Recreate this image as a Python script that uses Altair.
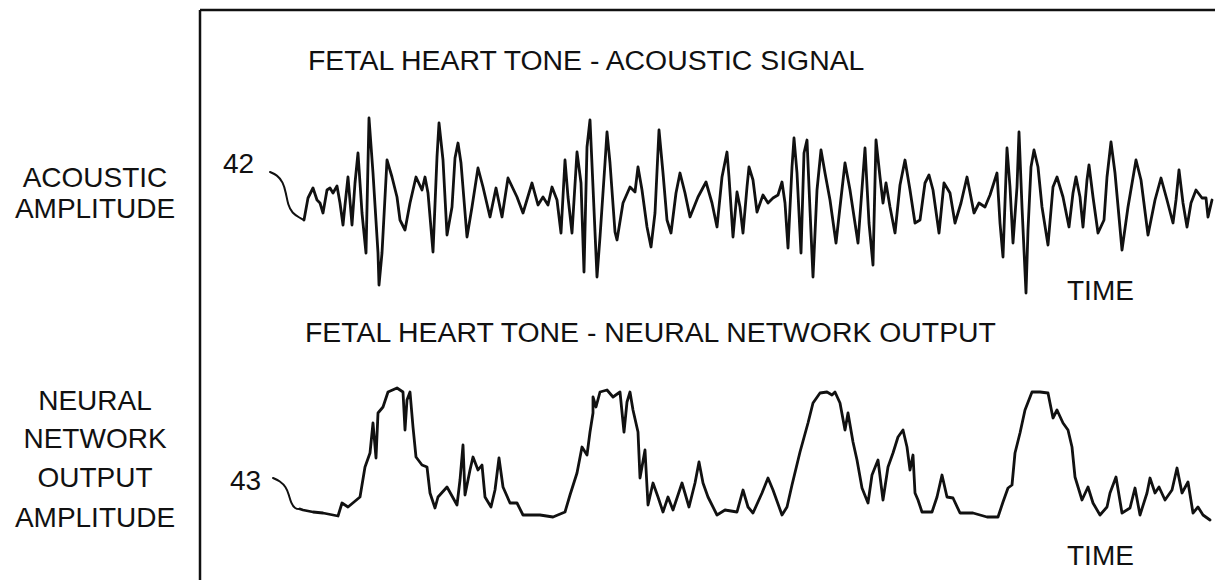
import altair as alt
import pandas as pd

# ---- data (time units, amplitude units; amplitude positive = up) ----
ac_time = [4, 8, 13, 17, 20, 23, 27, 30, 33, 37, 40, 43, 45, 48, 52, 55, 58, 62, 66, 69, 73, 78, 79, 82,
           87, 92, 97, 100, 105, 110, 116, 122, 125, 128, 133, 137, 139, 143, 147, 152, 155, 158, 161,
           167, 172, 178, 183, 190, 196, 202, 208, 217, 223, 232, 238, 243, 248, 252, 257, 261, 265,
           268, 272, 277, 281, 284, 287, 290, 293, 297, 300, 305, 307, 310, 315, 317, 323, 330, 335,
           338, 342, 347, 351, 355, 359, 363, 367, 371, 376, 380, 385, 390, 398, 406, 412, 417, 422,
           427, 429, 433, 437, 440, 443, 447, 449, 453, 457, 463, 468, 473, 478, 482, 485, 488, 492,
           494, 497, 501, 504, 507, 510, 513, 517, 521, 525, 530, 536, 540, 545, 550, 558, 565, 569,
           573, 576, 580, 583, 586, 590, 595, 600, 605, 610, 615, 620, 625, 629, 633, 639, 644, 650,
           655, 661, 667, 674, 679, 685, 690, 697, 700, 703, 707, 710, 713, 717, 719, 722, 726, 728,
           731, 734, 738, 742, 748, 753, 757, 763, 769, 773, 776, 780, 783, 787, 789, 793, 798, 804,
           807, 811, 815, 822, 828, 836, 841, 848, 855, 861, 867, 873, 876, 879, 883, 887, 891, 896,
           902, 906, 908, 912]
ac_amp = [-20, 2, 12, 0, -3, -13, 10, 12, 7, 14, -3, -25, -5, 23, -25, 17, 47, -13, -53, 82, 27, -53,
          -85, -53, 40, 23, 3, -20, -30, -3, 23, 10, 23, 7, -52, 43, 77, 40, -35, -7, 42, 57, 37,
          -37, -7, 32, 13, -17, 12, -17, 22, 3, -13, 17, -5, 3, -5, 13, 0, -33, 40, 3, -33, 48, 17,
          -72, 53, 80, 13, -77, -37, 37, 68, 37, -32, -40, -3, 13, 8, 33, 10, -27, -47, -13, 70, 27,
          -20, -33, 7, 27, 7, -17, 3, 18, -3, -27, 23, 48, 23, -37, 8, -7, -33, 13, 33, 20, -12, 5,
          -3, 2, 5, 18, -3, -48, 33, 62, 27, -53, 47, 60, -10, -77, 10, 50, 27, 0, -43, -7, 37, 10,
          -43, 52, -23, -65, 60, 23, -3, 17, -7, -33, 15, 40, 10, -23, -20, 17, 25, 10, -33, 17, 7,
          -23, -3, 23, -13, -3, -7, 5, 27, -23, -57, 52, 13, -43, 13, 68, -7, -93, -30, 33, 50, 33,
          -7, -45, 13, 23, 3, -27, 7, 23, 3, -27, 20, 35, 3, -33, -20, 23, 58, 27, -50, -7, 40, 20,
          -35, 0, 22, 0, -23, 0, 30, -3, -27, -3, 10, 2, 2, -17, 0]

nn_time = [0, 3, 13, 23, 38, 42, 48, 60, 65, 70, 73, 76, 78, 83, 88, 97, 103, 105, 107, 110, 113,
           116, 122, 127, 130, 135, 138, 147, 157, 160, 163, 165, 170, 173, 178, 182, 185, 191, 195,
           199, 203, 210, 217, 223, 240, 253, 265, 270, 277, 282, 287, 290, 293, 293, 296, 300, 307,
           313, 320, 324, 327, 330, 333, 338, 340, 345, 348, 353, 358, 363, 368, 373, 382, 389, 395,
           399, 403, 408, 417, 425, 437, 443, 448, 453, 462, 468, 473, 482, 487, 492, 500, 508, 513,
           520, 527, 532, 535, 540, 545, 548, 553, 557, 562, 568, 572, 578, 583, 588, 593, 598, 603,
           607, 610, 613, 615, 618, 622, 632, 637, 642, 647, 653, 660, 673, 687, 698, 703, 708, 712,
           715, 720, 725, 732, 740, 748, 753, 757, 763, 768, 772, 775, 782, 788, 793, 800, 807, 810,
           816, 822, 830, 835, 840, 847, 850, 855, 859, 865, 872, 877, 882, 888, 893, 898, 903, 910]
nn_amp = [8, 7, 5, 4, 1, 14, 10, 20, 50, 64, 94, 59, 104, 110, 125, 129, 125, 87, 117, 125, 90, 60,
          52, 50, 24, 9, 20, 30, 12, 37, 72, 22, 47, 60, 47, 52, 20, 10, 27, 59, 30, 14, 14, 2, 2, 0,
          5, 22, 44, 70, 62, 85, 104, 120, 110, 125, 127, 120, 125, 85, 115, 125, 107, 85, 39, 67, 12,
          34, 20, 5, 20, 7, 34, 10, 34, 55, 34, 20, 2, 7, 5, 27, 10, 4, 24, 39, 27, 2, 10, 32, 65, 94,
          114, 124, 125, 122, 125, 114, 87, 104, 75, 57, 29, 14, 42, 57, 17, 50, 64, 80, 87, 70, 47,
          62, 24, 17, 5, 5, 20, 42, 20, 19, 4, 4, 0, 0, 15, 29, 32, 64, 84, 107, 125, 125, 124, 99,
          107, 94, 87, 70, 40, 17, 30, 14, 2, 10, 24, 40, 4, 9, 29, 2, 24, 39, 24, 30, 17, 27, 49, 24,
          35, 4, 10, 2, -3]

lead42_time = [-30, -23, -17, -14, -12, -8, 0, 4]
lead42_amp = [28, 25, 18, 7, -5, -13, -18, -20]
lead43_time = [-27, -20, -14, -11, -9, -5, 0]
lead43_amp = [39, 36, 30, 22, 14, 8, 8]

W, H = 1207, 572
X_DOMAIN = [-292, 915]
AC_DOMAIN = [-380, 192]
NN_DOMAIN = [-63, 509]
FONT = "Liberation Sans"
INK = "#111111"

def frame(t, a):
    return pd.DataFrame({"t": t, "a": a, "i": list(range(len(t)))})

xs = alt.Scale(domain=X_DOMAIN, nice=False, zero=False)

def trace(df, dom, width=2.8, interp="linear"):
    return alt.Chart(df).mark_line(color=INK, strokeWidth=width, interpolate=interp,
                                   strokeJoin="round", strokeCap="round", clip=False).encode(
        x=alt.X("t:Q", scale=xs, axis=None),
        y=alt.Y("a:Q", scale=alt.Scale(domain=dom, nice=False, zero=False), axis=None),
        order="i:Q",
    )

one = alt.Data(values=[{}])

def label(txt, x, y, align="left", size=28):
    return alt.Chart(one).mark_text(font=FONT, fontSize=size, color=INK, align=align,
                                    baseline="alphabetic").encode(
        x=alt.value(x), y=alt.value(y), text=alt.value(txt))

box_top = alt.Chart(one).mark_rule(color=INK, strokeWidth=2.5).encode(
    x=alt.value(192), x2=alt.value(W), y=alt.value(2))
box_left = alt.Chart(one).mark_rule(color=INK, strokeWidth=2.5).encode(
    x=alt.value(192), y=alt.value(2), y2=alt.value(H))

layers = [
    box_top, box_left,
    trace(frame(ac_time, ac_amp), AC_DOMAIN),
    trace(frame(lead42_time, lead42_amp), AC_DOMAIN, 2.0, "basis"),
    trace(frame(nn_time, nn_amp), NN_DOMAIN),
    trace(frame(lead43_time, lead43_amp), NN_DOMAIN, 2.0, "basis"),
    label("FETAL HEART TONE - ACOUSTIC SIGNAL", 300, 62, size=28.4),
    label("FETAL HEART TONE - NEURAL NETWORK OUTPUT", 297, 334, size=28.4),
    label("TIME", 1059, 292),
    label("TIME", 1059, 557),
    label("42", 215, 165),
    label("43", 222, 482),
    label("ACOUSTIC", 87, 179, "center"),
    label("AMPLITUDE", 87, 210, "center"),
    label("NEURAL", 87, 402, "center"),
    label("NETWORK", 87, 440, "center"),
    label("OUTPUT", 87, 479, "center"),
    label("AMPLITUDE", 87, 519, "center"),
]

chart = alt.layer(*layers).resolve_scale(y="independent").properties(
    width=W, height=H, padding=0, autosize=alt.AutoSizeParams(type="none"),
    background="white",
).configure_view(stroke=None)

chart.save("out.html", embed_options={"renderer": "svg", "actions": False})
